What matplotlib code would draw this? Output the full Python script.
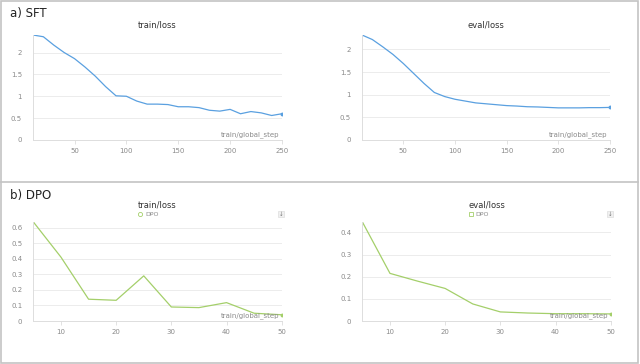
import matplotlib.pyplot as plt
from matplotlib.lines import Line2D
from matplotlib.patches import Rectangle

# SFT run (logged every 10 steps)
sft_steps = [10, 20, 30, 40, 50, 60, 70, 80, 90, 100, 110, 120, 130, 140, 150,
             160, 170, 180, 190, 200, 210, 220, 230, 240, 250]
sft_train_loss = [2.40, 2.36, 2.17, 2.00, 1.86, 1.67, 1.46, 1.22, 1.01, 1.00, 0.89,
                  0.82, 0.82, 0.81, 0.76, 0.76, 0.74, 0.68, 0.66, 0.70, 0.60, 0.65,
                  0.62, 0.56, 0.60]
sft_eval_loss = [2.32, 2.22, 2.06, 1.89, 1.69, 1.47, 1.25, 1.05, 0.96, 0.90, 0.86,
                 0.82, 0.80, 0.78, 0.76, 0.75, 0.735, 0.73, 0.72, 0.71, 0.71, 0.71,
                 0.715, 0.715, 0.72]

# DPO run (logged every 5 steps)
dpo_steps = [5, 10, 15, 20, 25, 30, 35, 40, 45, 50]
dpo_train_loss = [0.636, 0.41, 0.14, 0.133, 0.29, 0.09, 0.086, 0.118, 0.05, 0.04]
dpo_eval_loss = [0.447, 0.215, 0.18, 0.147, 0.077, 0.041, 0.036, 0.033, 0.033, 0.032]

sft_xticks = [50, 100, 150, 200, 250]
sft_yticks = [0, 0.5, 1, 1.5, 2]
dpo_xticks = [10, 20, 30, 40, 50]
dpo_train_yticks = [0, 0.1, 0.2, 0.3, 0.4, 0.5, 0.6]
dpo_eval_yticks = [0, 0.1, 0.2, 0.3, 0.4]

BLUE = "#5aa0e0"
GREEN = "#a4cf6a"
GRID = "#ececec"
TXT = "#8a8a8a"

W, H = 640, 364
fig = plt.figure(figsize=(6.4, 3.64), dpi=100)
fig.patch.set_facecolor("white")


def px_axes(x0, x1, ytop, ybot):
    return fig.add_axes([x0 / W, 1 - ybot / H, (x1 - x0) / W, (ybot - ytop) / H])


def fmt(v):
    return f"{v:g}"


def panel(ax, x, y, color, xticks, yticks, xlim, title, title_y):
    ax.plot(x, y, color=color, lw=0.9, marker="o", ms=1.8, markevery=[len(x) - 1])
    ax.set_xlim(*xlim)
    ax.set_ylim(0, max(y))
    ax.set_xticks(xticks)
    ax.set_xticklabels([fmt(t) for t in xticks])
    ax.set_yticks(yticks)
    ax.set_yticklabels([fmt(t) for t in yticks])
    ax.grid(axis="y", color=GRID, lw=0.7)
    ax.set_axisbelow(True)
    for s in ["top", "right"]:
        ax.spines[s].set_visible(False)
    ax.spines["left"].set_color("#dddddd")
    ax.spines["bottom"].set_color("#dddddd")
    ax.spines["left"].set_linewidth(0.7)
    ax.spines["bottom"].set_linewidth(0.7)
    ax.tick_params(axis="x", length=3, width=0.6, color="#dddddd", labelsize=5,
                   labelcolor=TXT, pad=3)
    ax.tick_params(axis="y", length=0, labelsize=5, labelcolor=TXT, pad=8)
    ax.text(0.99, 0.02, "train/global_step", transform=ax.transAxes, ha="right",
            va="bottom", fontsize=5, color=TXT)
    ax.set_title(title, fontsize=6, color="#333333", y=title_y, va="center", pad=0)


# a) SFT
ax1 = px_axes(33, 282, 35, 140)
panel(ax1, sft_steps, sft_train_loss, BLUE, sft_xticks, sft_yticks, (10, 250),
      "train/loss", 1 + 10 / 105)

ax2 = px_axes(362, 610, 35, 140)
panel(ax2, sft_steps, sft_eval_loss, BLUE, sft_xticks, sft_yticks, (10, 250),
      "eval/loss", 1 + 10 / 105)

# b) DPO
ax3 = px_axes(33.4, 281.7, 222, 321)
panel(ax3, dpo_steps, dpo_train_loss, GREEN, dpo_xticks, dpo_train_yticks, (5, 50),
      "train/loss", 1 + 17 / 99)

ax4 = px_axes(362.4, 610.7, 222, 321)
panel(ax4, dpo_steps, dpo_eval_loss, GREEN, dpo_xticks, dpo_eval_yticks, (5, 50),
      "eval/loss", 1 + 17 / 99)

# legends and download icons for the DPO charts
for lx, marker, ix in [(140, "o", 281), (470.7, "s", 610)]:
    fig.add_artist(Line2D([lx / W], [1 - 214 / H], marker=marker, ms=3, mfc="white",
                          mec=GREEN, mew=0.6, ls="none"))
    fig.text((lx + 5) / W, 1 - 214 / H, "DPO", fontsize=4.5, color=TXT, va="center")
    fig.add_artist(Rectangle(((ix - 3) / W, 1 - 217 / H), 6 / W, 6 / H, fc="#f0f0f0",
                             ec="#d8d8d8", lw=0.4, transform=fig.transFigure))
    fig.text(ix / W, 1 - 214 / H, "↓", fontsize=4, color="#777777", ha="center", va="center")

fig.text(10 / W, 1 - 14 / H, "a) SFT", fontsize=8.5, color="#222222", va="center")
fig.text(10 / W, 1 - 196 / H, "b) DPO", fontsize=8.5, color="#222222", va="center")

# panel frames
border = "#c4c4c4"
fig.add_artist(Rectangle((1 / W, 1 / H), 637 / W, 362 / H, fill=False, ec=border, lw=1.2,
                         transform=fig.transFigure))
fig.add_artist(Line2D([0, 638 / W], [1 - 181.5 / H] * 2, color=border, lw=1.2))

fig.savefig("out.png", dpi=100, facecolor="white")
